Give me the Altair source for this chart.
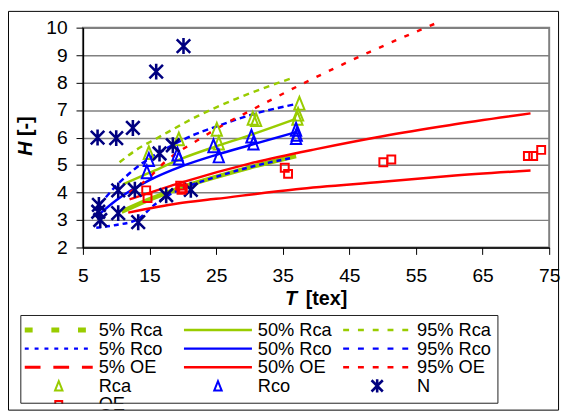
import altair as alt
import pandas as pd

# ---------------- percentile curves (T [tex], H [-]) ----------------
rca05_T = [10.8, 15, 20, 25, 30, 37]
rca05_H = [3.3, 3.75, 4.2, 4.57, 4.91, 5.33]
rca50_T = [11, 15, 20, 25, 30, 37]
rca50_H = [4.3, 4.72, 5.25, 5.68, 6.08, 6.68]
rca95_T = [10.5, 13, 16.3, 22.2, 28.1, 33.5, 36.5]
rca95_H = [5.1, 5.55, 6.0, 6.78, 7.42, 7.92, 8.17]

rco05_T = [7, 10, 13, 16, 18, 20.7, 25, 30, 36.5]
rco05_H = [2.72, 2.82, 3.0, 3.6, 3.92, 4.22, 4.57, 4.92, 5.27]
rco50_T = [7.4, 10, 15, 20, 25, 30, 37]
rco50_H = [3.2, 3.72, 4.45, 4.97, 5.37, 5.72, 6.2]
rco95_T = [7.5, 10, 12, 15, 17.5, 20.7, 25, 31, 37]
rco95_H = [3.55, 4.25, 4.7, 5.25, 5.6, 6.0, 6.4, 6.88, 7.22]

oe05_T = [11.8, 19.2, 25, 37, 50, 60, 72.2]
oe05_H = [3.27, 3.6, 3.77, 4.12, 4.39, 4.6, 4.8]
oe50_T = [12, 20, 30, 40, 50, 60, 72.2]
oe50_H = [3.75, 4.38, 5.05, 5.58, 6.05, 6.45, 6.88]
oe95_T = [12, 14.7, 17.5, 22.2, 26, 30.3, 38, 48.1, 58.4]
oe95_H = [4.0, 4.5, 5.15, 5.9, 6.45, 7.0, 7.96, 9.12, 10.2]

# ---------------- measured points ----------------
rca_T = [14.9, 19.4, 25.1, 25.4, 30.5, 31.0, 37.2, 37.3, 37.5]
rca_H = [5.45, 5.95, 6.3, 5.8, 6.7, 6.65, 6.7, 6.85, 7.25]
rco_T = [14.6, 14.9, 19.2, 19.4, 24.6, 25.4, 30.3, 30.6, 37.0, 37.0, 37.1]
rco_H = [4.75, 5.2, 5.4, 5.25, 5.7, 5.33, 6.05, 5.8, 6.3, 6.0, 6.12]
n_T = [7.2, 10.0, 12.5, 16.0, 20.1, 7.4, 7.6, 7.3, 10.3, 10.3, 12.8, 13.3, 17.5, 21.2, 16.5, 18.5]
n_H = [6.0, 5.98, 6.35, 8.4, 9.33, 3.55, 3.0, 3.3, 4.08, 3.25, 4.1, 2.92, 3.9, 4.1, 5.42, 5.72]
oe_T = [14.5, 14.7, 19.6, 19.8, 20.0, 35.3, 35.8, 50.1, 51.3, 71.8, 72.6, 73.8]
oe_H = [4.08, 3.8, 4.25, 4.1, 4.15, 4.9, 4.68, 5.1, 5.2, 5.33, 5.33, 5.55]

legend_labels = ["5% Rca", "50% Rca", "95% Rca",
                 "5% Rco", "50% Rco", "95% Rco",
                 "5% OE", "50% OE", "95% OE",
                 "Rca", "Rco", "N", "OE"]
x_ticks = [5, 15, 25, 35, 45, 55, 65, 75]
y_ticks = [2, 3, 4, 5, 6, 7, 8, 9, 10]

# ---------------- styles ----------------
GREEN, BLUE, RED, NAVY = "#99cc00", "#0000ff", "#ff0000", "#000080"
FONT = "Liberation Sans"
TRI = "M0,-1L0.8,1L-0.8,1Z"
STAR = "M0,-1L0,1M-0.85,-0.85L0.85,0.85M-0.85,0.85L0.85,-0.85"
W, H = 473, 223

xscale = alt.Scale(domain=[5, 75], nice=False, zero=False)
yscale = alt.Scale(domain=[2, 10], nice=False, zero=False)
xaxis = alt.Axis(values=x_ticks, title=None, grid=False, tickSize=7, tickColor="black",
                 domainColor="black", domainWidth=1.5, labelFontSize=19.5, labelFont=FONT,
                 labelColor="black", labelPadding=13, labelFlush=False, labelOverlap=False)
yaxis = alt.Axis(values=y_ticks, title=None, grid=True, gridColor="#808080", gridWidth=1.5,
                 tickSize=7, tickColor="black", domainColor="black", domainWidth=1.5,
                 labelFontSize=19.5, labelFont=FONT, labelColor="black", labelPadding=9,
                 labelFlush=False, labelOverlap=False)


def xy(ch):
    return ch.encode(x=alt.X("T:Q", scale=xscale, axis=xaxis),
                     y=alt.Y("H:Q", scale=yscale, axis=yaxis))


curves = [
    (rca05_T, rca05_H, GREEN, None, 4.5),
    (rca50_T, rca50_H, GREEN, None, 2.5),
    (rca95_T, rca95_H, GREEN, [6, 5], 2.5),
    (rco05_T, rco05_H, BLUE, [5, 4], 2.5),
    (rco50_T, rco50_H, BLUE, None, 2.5),
    (rco95_T, rco95_H, BLUE, [6, 4], 2.5),
    (oe05_T, oe05_H, RED, None, 2.5),
    (oe50_T, oe50_H, RED, None, 2.5),
    (oe95_T, oe95_H, RED, [5, 9], 2.5),
]
plot_layers = []
for T, Hv, col, dash, sw in curves:
    kw = dict(color=col, strokeWidth=sw, interpolate="monotone")
    if dash:
        kw["strokeDash"] = dash
    plot_layers.append(xy(alt.Chart(pd.DataFrame({"T": T, "H": Hv})).mark_line(**kw)))

points = [
    (rca_T, rca_H, TRI, GREEN, 169, 2),
    (rco_T, rco_H, TRI, BLUE, 169, 2),
    (n_T, n_H, STAR, NAVY, 260, 2.6),
    (oe_T, oe_H, "square", RED, 64, 2),
]
for T, Hv, shp, col, sz, sw in points:
    plot_layers.append(xy(alt.Chart(pd.DataFrame({"T": T, "H": Hv})).mark_point(
        shape=shp, filled=False, color=col, size=sz, strokeWidth=sw, opacity=1)))

plot = alt.layer(*plot_layers)

# ---------------- legend (own scales) ----------------
leg_df = pd.DataFrame({"label": legend_labels,
                       "row": [i // 3 for i in range(len(legend_labels))],
                       "col": [i % 3 for i in range(len(legend_labels))]})
lx = alt.Scale(domain=[0, 3], range=[-59, 425.5])
ly = alt.Scale(domain=[0, 5], range=[306.7, 401.2])
leg_base = alt.Chart(leg_df).transform_calculate(
    xs="datum.col", xe="datum.col + 0.427", xm="datum.col + 0.2136", xt="datum.col + 0.464")

leg_line_styles = {
    "5% Rca": (GREEN, [8, 19], 5),
    "50% Rca": (GREEN, None, 2.5),
    "95% Rca": (GREEN, [6, 9], 2.5),
    "5% Rco": (BLUE, [4, 6], 2.5),
    "50% Rco": (BLUE, None, 2.5),
    "95% Rco": (BLUE, [6, 9], 2.5),
    "5% OE": (RED, [16, 13], 3),
    "50% OE": (RED, None, 2.5),
    "95% OE": (RED, [6, 9], 2.5),
}
leg_layers = []
for lab, (col, dash, sw) in leg_line_styles.items():
    kw = dict(color=col, strokeWidth=sw)
    if dash:
        kw["strokeDash"] = dash
    leg_layers.append(leg_base.transform_filter(alt.datum.label == lab).mark_rule(**kw).encode(
        x=alt.X("xs:Q", scale=lx, axis=None), x2="xe:Q", y=alt.Y("row:Q", scale=ly, axis=None)))

leg_point_styles = {
    "Rca": (TRI, GREEN, 90, 2),
    "Rco": (TRI, BLUE, 90, 2),
    "N": (STAR, NAVY, 180, 2.6),
    "OE": ("square", RED, 50, 2),
}
for lab, (shp, col, sz, sw) in leg_point_styles.items():
    leg_layers.append(leg_base.transform_filter(alt.datum.label == lab).mark_point(
        shape=shp, filled=False, color=col, size=sz, strokeWidth=sw, opacity=1).encode(
        x=alt.X("xm:Q", scale=lx, axis=None), y=alt.Y("row:Q", scale=ly, axis=None)))

leg_layers.append(leg_base.mark_text(align="left", baseline="middle", fontSize=18.5,
                                     font=FONT, color="black").encode(
    x=alt.X("xt:Q", scale=lx, axis=None), y=alt.Y("row:Q", scale=ly, axis=None), text="label:N"))
legend = alt.layer(*leg_layers)

# ---------------- decorations ----------------
one = alt.Chart(pd.DataFrame({"k": [0]}))
cover = one.mark_rect(color="white").encode(
    x=alt.value(-74), x2=alt.value(481), y=alt.value(381.5), y2=alt.value(387))
legbox = one.mark_rect(fillOpacity=0, stroke="#202020", strokeWidth=1).encode(
    x=alt.value(-63), x2=alt.value(421), y=alt.value(292), y2=alt.value(381))
frame = one.mark_rect(fillOpacity=0, stroke="black", strokeWidth=1).encode(
    x=alt.value(-75.5), x2=alt.value(482.5), y=alt.value(-16.5), y2=alt.value(388))
tt1 = one.mark_text(text="T", font=FONT, fontSize=20, fontWeight="bold", fontStyle="italic",
                    align="left", baseline="alphabetic", color="black").encode(
    x=alt.value(205), y=alt.value(281))
tt2 = one.mark_text(text="[tex]", font=FONT, fontSize=20, fontWeight="bold",
                    align="left", baseline="alphabetic", color="black").encode(
    x=alt.value(226), y=alt.value(281))
yt1 = one.mark_text(text="H", font=FONT, fontSize=20, fontWeight="bold", fontStyle="italic",
                    angle=270, align="left", baseline="alphabetic", color="black").encode(
    x=alt.value(-52), y=alt.value(130))
yt2 = one.mark_text(text="[-]", font=FONT, fontSize=20, fontWeight="bold",
                    angle=270, align="left", baseline="alphabetic", color="black").encode(
    x=alt.value(-52), y=alt.value(110))

chart = alt.layer(plot, legend, cover, legbox, frame, tt1, tt2, yt1, yt2).resolve_scale(
    x="independent", y="independent"
).properties(
    width=W, height=H,
    autosize=alt.AutoSizeParams(type="none"),
    padding={"left": 76, "top": 17, "right": 13, "bottom": 167},
    background="white",
).configure_view(stroke="#808080", strokeWidth=2).configure_text(font=FONT)

chart.save("out.html", embed_options={"renderer": "svg", "actions": False})
